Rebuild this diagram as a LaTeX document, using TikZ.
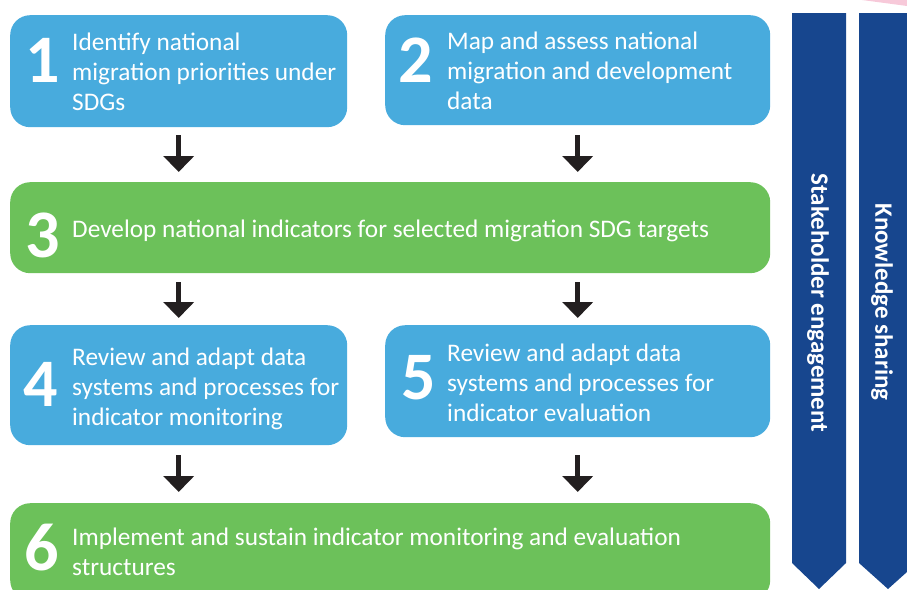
\documentclass[tikz,border=0pt]{standalone}
\usepackage{fontspec}
\setmainfont{Carlito}
\usepackage{xcolor}
\usetikzlibrary{arrows.meta,positioning}
\definecolor{skyblue}{HTML}{48ABDD}
\definecolor{leafgreen}{HTML}{6CC15A}
\definecolor{navy}{HTML}{17468E}
\definecolor{arrowgrey}{HTML}{231F20}
\definecolor{softpink}{HTML}{F7C9D9}
\tikzset{stepbox/.style={rounded corners=20pt,anchor=north west,inner sep=0pt},
  bluebox/.style={stepbox,fill=skyblue},
  greenbox/.style={stepbox,fill=leafgreen},
  num/.style={anchor=west,inner sep=0pt,text=white,font=\fontsize{68}{68}\selectfont\bfseries},
  txt/.style={anchor=west,inner sep=0pt,text=white,align=left,font=\fontsize{25.3}{30}\selectfont},
  flow/.style={draw=arrowgrey,line width=5pt,-{Triangle[width=30pt,length=16pt]}},
  bannertxt/.style={rotate=-90,inner sep=0pt,text=white,font=\fontsize{25}{25}\selectfont\bfseries}}

\begin{document}
\begin{tikzpicture}[x=1pt,y=-1pt]
    \clip (0,0) rectangle (907,589);
    \fill[softpink] (862,0) -- (907,0) -- (907,6) -- cycle;

    % steps
    \node[bluebox,minimum width=337pt,minimum height=112pt] (b1) at (10,15) {};
    \node[bluebox,minimum width=385pt,minimum height=110pt] (b2) at (385,15) {};
    \node[greenbox,minimum width=760pt,minimum height=91pt] (b3) at (10,182) {};
    \node[bluebox,minimum width=337pt,minimum height=120pt] (b4) at (10,325) {};
    \node[bluebox,minimum width=385pt,minimum height=112pt] (b5) at (385,325) {};
    \node[greenbox,minimum width=760pt,minimum height=97pt] (b6) at (10,503) {};

    \node[num] (n1) at (25,60) {1};
    \node[num] (n2) at (398,60) {2};
    \node[num] (n3) at (25,235) {3};
    \node[num] (n4) at (23,384) {4};
    \node[num] (n5) at (401,378) {5};
    \node[num] (n6) at (24,548) {6};

    \node[txt] (t1) at (72,72) {Identify national\\migration priorities under\\SDGs};
    \node[txt] (t2) at (447,71) {Map and assess national\\migration and development\\data};
    \node[txt] (t3) at (72,231) {Develop national indicators for selected migration SDG targets};
    \node[txt] (t4) at (72,389) {Review and adapt data\\systems and processes for\\indicator monitoring};
    \node[txt] (t5) at (447,383) {Review and adapt data\\systems and processes for\\indicator evaluation};
    \node[txt] (t6) at (72,552) {Implement and sustain indicator monitoring and evaluation\\structures};

    % arrows
    \draw[flow,shorten <=8pt,shorten >=10pt] (b1.south) -- (b1.south |- b3.north);
    \draw[flow,shorten <=10pt,shorten >=10pt] (b2.south) -- (b2.south |- b3.north);
    \draw[flow,shorten <=9pt,shorten >=7pt] (b4.north |- b3.south) -- (b4.north);
    \draw[flow,shorten <=9pt,shorten >=7pt] (b5.north |- b3.south) -- (b5.north);
    \draw[flow,shorten <=10pt,shorten >=11pt] (b4.south) -- (b4.south |- b6.north);
    \draw[flow,shorten <=18pt,shorten >=11pt] (b5.south) -- (b5.south |- b6.north);

    % side banners
    \fill[navy] (792,13) -- (846,13) -- (846,563) -- (819,589) -- (792,563) -- cycle;
    \fill[navy] (859,13) -- (917,13) -- (917,563) -- (888,589) -- (859,563) -- cycle;
    \node[bannertxt] (s1) at (818,303) {Stakeholder engagement};
    \node[bannertxt] (s2) at (882,302) {Knowledge sharing};
\end{tikzpicture}
\end{document}
